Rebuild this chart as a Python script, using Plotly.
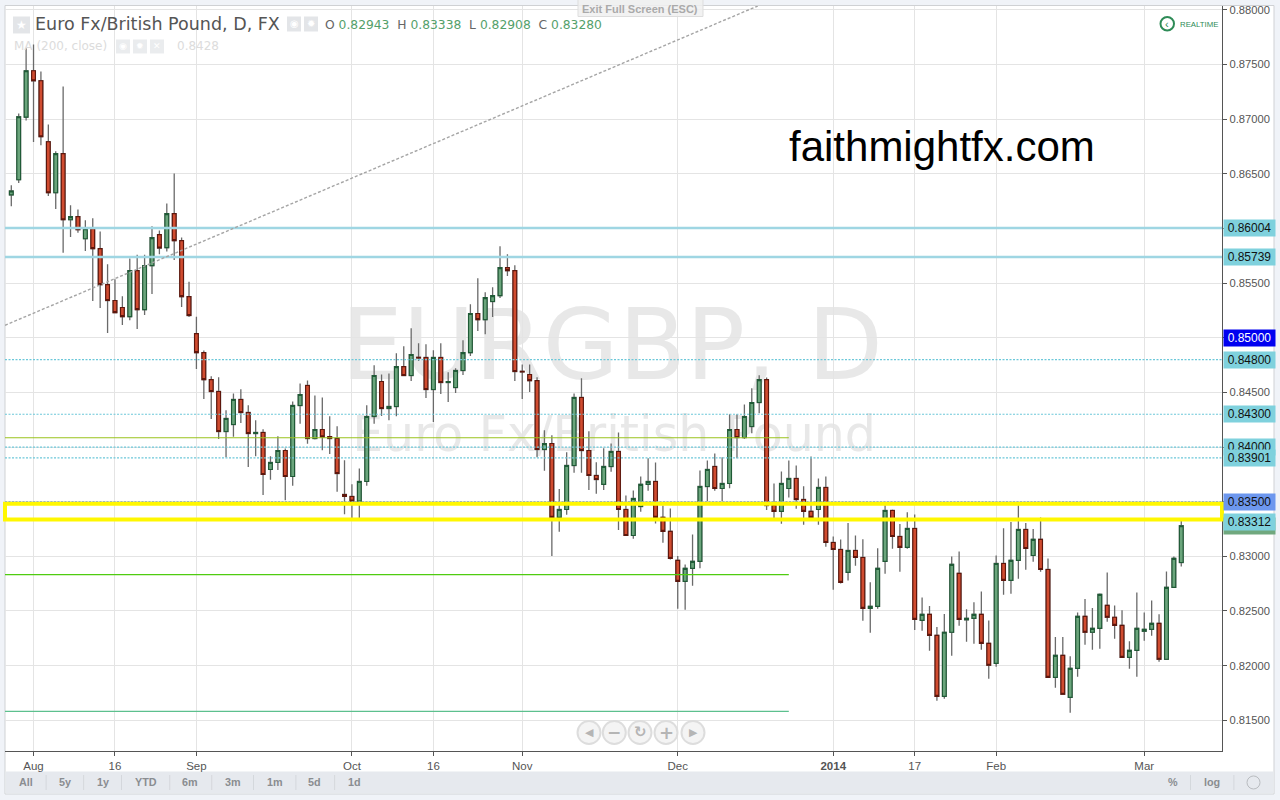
import plotly.graph_objects as go

# Prices are quoted in 1e-5 units (five-decimal FX quotes).
SCALE = 1e-5
opens = [
86307,86446,87018,87442,87351,86793,86327,86684,86080,86108,85906,85998,85815,85486,85340,85276,85193,85614,85257,85660,
85943,85824,86135,85888,85376,85038,84864,84617,84508,84142,84206,84435,84316,84124,84133,83795,83859,83968,83731,84380,
84563,84078,84160,84096,84078,83566,83548,83505,83685,84279,84599,84352,84371,84736,84654,84821,84819,84526,84819,84590,
84544,84700,84864,85221,85166,85331,85385,85641,85614,84693,84663,84608,83977,84032,83356,83429,83831,84453,83968,83740,
83658,83822,83959,83429,83191,83456,83658,83685,83356,83228,82963,82771,82890,82954,83639,83822,83621,83667,84160,84087,
84188,84407,84617,83465,83411,83621,83712,83520,83411,83429,83630,83127,83063,82853,83054,82990,82524,82542,82954,83420,
83182,83082,83255,82414,82469,82277,81719,82305,82844,82420,82432,82469,82204,82021,82935,82780,82963,83246,83008,83155,
82880,81893,82094,81710,81975,82451,82305,82341,82551,82442,82368,82076,82140,82314,82332,82387,82058,82716,82943]
highs = [
86394,87052,87649,87683,87436,86951,86705,87299,86211,86174,86074,86092,85973,85672,85534,85379,85724,85760,85760,86019,
85982,86229,86503,85916,85513,85193,84883,84648,84638,84337,84489,84529,84382,84245,84163,83916,84099,83987,84416,84581,
84608,84471,84453,84282,84190,83880,83660,83804,84382,84748,84663,84672,84858,84922,85086,84949,84940,84885,84949,84684,
84721,84977,85306,85544,85416,85461,85836,85763,85662,84755,84755,84638,84154,84108,83615,83953,84489,84629,84145,83861,
83989,84032,84133,83557,83603,83731,83898,83859,83465,83438,83002,82926,83200,83786,83877,83941,83907,84300,84300,84389,
84538,84657,84636,83667,83776,83877,83831,83642,83913,83712,83731,83182,83155,83304,83191,83157,82762,83075,83468,83429,
83295,83404,83383,82624,82545,82353,82472,82999,83045,82515,82579,82679,82414,83008,83258,83313,83468,83304,83249,83356,
82981,82262,82262,82085,82487,82609,82527,82661,82853,82551,82506,82222,82670,82487,82597,82469,82862,82999,83338]
lows = [
86204,86415,86988,86790,86762,86296,86177,85778,85921,85961,85793,85336,85272,85043,85230,85117,85160,85080,85208,85400,
85763,85790,85711,85281,85190,84714,84440,84257,84074,83907,84093,84221,83818,83916,83562,83700,83791,83514,83645,84212,
84029,84069,83971,83937,83590,83386,83343,83343,83645,84212,84285,84245,84282,84654,84605,84788,84449,84230,84486,84413,
84495,84659,84833,85062,85032,85190,85363,85565,84605,84440,84504,83907,83782,83002,83224,83380,83764,83764,83608,83572,
83608,83773,83240,83191,83160,83407,83599,83301,83124,82972,82520,82511,82731,82892,83505,83599,83505,83624,83898,84074,
84127,84309,83423,83343,83297,83539,83435,83288,83338,83288,83087,82694,82752,82780,82913,82411,82301,82520,82840,83069,
82859,83069,82326,82319,82136,81679,81698,82091,82365,82219,82200,82145,81880,81990,82648,82657,82795,82877,82950,82859,
81893,81798,81738,81570,81899,82191,82145,82155,82401,82246,82076,81972,81899,82228,82273,82036,82058,82716,82908]
closes = [
86343,87022,87442,87351,86839,86327,86684,86080,86108,85989,85998,85815,85486,85340,85230,85193,85614,85257,85660,85916,
85821,86135,85888,85376,85203,84864,84617,84508,84142,84261,84435,84316,84124,84133,83749,83859,83968,83731,84380,84480,
84078,84160,84093,84078,83758,83548,83505,83685,84279,84654,84352,84371,84736,84654,84846,84815,84526,84819,84590,84599,
84700,84864,85221,85166,85367,85385,85641,85614,84691,84687,84608,83977,84032,83356,83429,83831,84453,83968,83740,83703,
83822,83959,83429,83191,83529,83658,83685,83356,83228,82981,82771,82890,82954,83639,83795,83621,83667,84160,84087,84279,
84407,84617,83465,83411,83667,83712,83520,83411,83356,83630,83127,83063,82762,83054,82990,82524,82542,82890,83420,83182,
83082,83255,82423,82469,82277,81719,82305,82926,82423,82432,82469,82204,82003,82935,82780,82963,83246,83072,83155,82880,
81893,82094,81738,81975,82451,82305,82341,82652,82442,82368,82076,82140,82341,82332,82387,82058,82716,82981,83280]
x_index = list(range(len(opens)))

x_tick_index = [3, 14, 25, 46, 57, 69, 90, 111, 122, 133, 153]
x_tick_text = ["Aug", "16", "Sep", "Oct", "16", "Nov", "Dec", "<b>2014</b>", "17", "Feb", "Mar"]
y_ticks = [0.815, 0.82, 0.825, 0.83, 0.835, 0.84, 0.845, 0.85, 0.855, 0.86, 0.865, 0.87, 0.875, 0.88]

solid_levels = [(0.86004, "#9fd6e3", 2.4), (0.85739, "#9fd6e3", 2.4)]
dotted_levels = [(0.84800, "#6cc8d9"), (0.84300, "#6cc8d9"), (0.84000, "#6cc8d9"), (0.83901, "#6cc8d9")]
blue_level = 0.83500
zone_top, zone_bottom = 0.83482, 0.83336
short_levels = [(0.84085, "#9ac31c"), (0.82832, "#4fcc10"), (0.81581, "#5cc08e")]
short_end_index = 105
trend_start = (-0.85, 0.85114)
trend_end = (100.8, 0.88035)

tagged_prices = [
    (0.84000, "0.84000", "#7fd1dd", "#111"), (0.83901, "0.83901", "#7fd1dd", "#111"),
    (0.86004, "0.86004", "#7fd1dd", "#111"), (0.85739, "0.85739", "#7fd1dd", "#111"),
    (0.85000, "0.85000", "#0000f0", "#fff"), (0.84800, "0.84800", "#7fd1dd", "#111"),
    (0.84300, "0.84300", "#7fd1dd", "#111"), (0.83500, "0.83500", "#6d97ee", "#111"),
    (0.83280, "", "#70a87e", "#111"), (0.83312, "0.83312", "#7fd1dd", "#111"),
]

L, R, T, B = 5.0, 1222.0, 5.5, 751.0
def xp(px): return (px - L) / (R - L)
def yp(py): return (B - py) / (B - T)

SANS = "Liberation Sans"
GREY = "#555555"
shapes, ann = [], []

def rect(x0, y0, x1, y1, fill, line=None, layer="below", w=1):
    shapes.append(dict(type="rect", xref="paper", yref="paper", x0=xp(x0), x1=xp(x1), y0=yp(y1), y1=yp(y0),
                       fillcolor=fill, line=dict(color=line or fill, width=w if line else 0), layer=layer))
def label(px, py, text, size=12, color=GREY, family=SANS, anchor="center"):
    ann.append(dict(xref="paper", yref="paper", x=xp(px), y=yp(py), text=text, showarrow=False, xanchor=anchor,
                    yanchor="middle", font=dict(size=size, color=color, family=family), borderpad=0))
def watermark(x0, y0, x1, y1, text, size):
    shapes.append(dict(type="rect", xref="paper", yref="paper", x0=xp(x0), x1=xp(x1), y0=yp(y1), y1=yp(y0),
                       fillcolor="rgba(0,0,0,0)", line=dict(width=0), layer="below",
                       label=dict(text=text, textposition="middle center",
                                  font=dict(size=size, color="#e8e8e8", family="DejaVu Sans"))))

# page furniture
rect(5, 5, 1274, 794, "#ffffff", "#cfd1d4")
rect(5.5, 771.5, 1273.5, 793.5, "#e6e9ee")

# watermark sits behind the candles
watermark(312, 288, 912, 388, "EURGBP, D", 98)
watermark(314, 400, 914, 460, "Euro Fx/British Pound", 49)

# study lines (in data coordinates)
for p, c, w in solid_levels:
    shapes.append(dict(type="line", xref="paper", yref="y", x0=0, x1=1, y0=p, y1=p, line=dict(color=c, width=w)))
for p, c in dotted_levels:
    shapes.append(dict(type="line", xref="paper", yref="y", x0=0, x1=1, y0=p, y1=p, line=dict(color=c, width=1.2, dash="2px,1.5px")))
shapes.append(dict(type="line", xref="paper", yref="y", x0=0, x1=1, y0=blue_level, y1=blue_level,
                   line=dict(color="#6a9af0", width=1, dash="2px,1.5px")))
for p, c in short_levels:
    shapes.append(dict(type="line", xref="x", yref="y", x0=-0.85, x1=short_end_index, y0=p, y1=p, line=dict(color=c, width=1.2)))
shapes.append(dict(type="line", xref="x", yref="y", x0=trend_start[0], y0=trend_start[1], x1=trend_end[0], y1=trend_end[1],
                   line=dict(color="#a5a5a5", width=1.4, dash="3px,2px")))
shapes.append(dict(type="rect", xref="paper", yref="y", x0=0, x1=1, y0=zone_bottom, y1=zone_top,
                   line=dict(color="#fff700", width=4), fillcolor="rgba(0,0,0,0)"))

# header
rect(13, 16, 30, 33, "#e3e5e8", layer="above")
label(21.5, 24.5, "★", 12, "#ffffff", "DejaVu Sans")
label(34, 24, "Euro Fx/British Pound, D, FX", 17.5, "#555555", "DejaVu Sans", "left")
rect(287, 16, 301, 31, "#e3e5e8", layer="above")
label(294, 23.5, "◉", 10, "#ffffff", "DejaVu Sans")
rect(304, 16, 318, 31, "#e3e5e8", layer="above")
label(311, 23.5, "✹", 10, "#ffffff", "DejaVu Sans")
vc = "#53a06a"
hdr = ("O <span style='color:%s'>0.82943</span>  H <span style='color:%s'>0.83338</span>  "
       "L <span style='color:%s'>0.82908</span>  C <span style='color:%s'>0.83280</span>") % (vc, vc, vc, vc)
label(324, 25, hdr, 12.3, "#666666", "DejaVu Sans", "left")
label(13, 46, "MA (200, close)", 12, "#dcdcdc", "DejaVu Sans", "left")
for x0 in (116, 133, 150):
    rect(x0, 39, x0 + 14, 53, "#eaecee", layer="above")
label(123, 46, "◉", 9, "#ffffff", "DejaVu Sans")
label(140, 46, "✹", 9, "#ffffff", "DejaVu Sans")
label(157, 46, "✕", 9, "#ffffff", "DejaVu Sans")
label(176, 46, "0.8428", 12, "#dcdcdc", "DejaVu Sans", "left")

# exit banner
rect(578, -1, 703, 16, "rgba(240,240,240,0.85)", "#dddddd", layer="above")
label(640.5, 8.5, "<b>Exit Full Screen (ESC)</b>", 11, "#aaaaaa")

# realtime badge
shapes.append(dict(type="circle", xref="paper", yref="paper", x0=xp(1160.5), x1=xp(1174), y0=yp(30), y1=yp(16.5),
                   line=dict(color="#2e8b57", width=2), fillcolor="rgba(0,0,0,0)", layer="above"))
label(1167.3, 23.3, "‹", 11, "#2e8b57")
label(1179, 23.7, "REALTIME", 7.8, "#2e8b57", "Liberation Sans", "left")

label(942, 146.5, "faithmightfx.com", 42, "#000000", SANS)

# nav buttons
for cx, g, s in ((589, "◀", 11), (614.3, "−", 17), (640, "↻", 15), (666, "+", 18), (693, "▶", 11)):
    shapes.append(dict(type="circle", xref="paper", yref="paper", x0=xp(cx - 11.5), x1=xp(cx + 11.5), y0=yp(744), y1=yp(721),
                       line=dict(color="#dddddd", width=2), fillcolor="#f4f4f4", layer="above"))
    label(cx, 732, "<b>%s</b>" % g, s, "#b5b5b5", "DejaVu Sans")

# range toolbar
for px, t in ((26, "All"), (64.5, "5y"), (103, "1y"), (146, "YTD"), (190, "6m"), (232.6, "3m"), (274.7, "1m"),
              (314.7, "5d"), (354, "1d"), (1172.6, "%"), (1211.8, "log")):
    label(px, 782.5, "<b>%s</b>" % t, 10.8, "#8a8d91")
for px in (45.7, 83.3, 121.2, 169.4, 211.4, 253, 295.5, 334.3, 1190, 1233.5):
    rect(px, 775, px + 0.8, 790, "#d0d3d7", layer="above")
shapes.append(dict(type="circle", xref="paper", yref="paper", x0=xp(1247), x1=xp(1260), y0=yp(789), y1=yp(776),
                   line=dict(color="#b9bcc0", width=1), fillcolor="rgba(0,0,0,0)", layer="above"))

# price tags
for p, t, bg, fg in tagged_prices:
    ann.append(dict(xref="paper", yref="y", x=1, xshift=0.5, y=p, xanchor="left", yanchor="middle", text=t, showarrow=False,
                    width=49, height=14, borderpad=1, align="center", bgcolor=bg, font=dict(size=12, color=fg, family=SANS)))

dark_g, dark_r = "#1f5a36", "#5e160c"
fill_g, fill_r = "#6ba57c", "#d04c30"
prices = lambda a: [v * SCALE for v in a]
o, h, l, c = prices(opens), prices(highs), prices(lows), prices(closes)
fig = go.Figure()
# wicks
fig.add_trace(go.Candlestick(
    x=x_index, open=o, high=h, low=l, close=c, name="wicks", whiskerwidth=0, hoverinfo="skip",
    increasing=dict(line=dict(color="#6a6a6a", width=1.3), fillcolor="#6a6a6a"),
    decreasing=dict(line=dict(color="#6a6a6a", width=1.3), fillcolor="#6a6a6a")))
# bodies
fig.add_trace(go.Candlestick(
    x=x_index, open=o, close=c,
    high=[max(a, b) for a, b in zip(o, c)], low=[min(a, b) for a, b in zip(o, c)],
    name="EURGBP", whiskerwidth=0,
    increasing=dict(line=dict(color=dark_g, width=1.1), fillcolor=fill_g),
    decreasing=dict(line=dict(color=dark_r, width=1.1), fillcolor=fill_r)))

fig.update_layout(
    width=1280, height=800, autosize=False, showlegend=False,
    margin=dict(l=L, r=1280 - R, t=T, b=800 - B, pad=0),
    paper_bgcolor="#f0f3f8", plot_bgcolor="rgba(0,0,0,0)",
    boxmode="overlay", boxgap=0.28,
    shapes=shapes, annotations=ann,
    font=dict(family=SANS, size=11.5, color=GREY),
    xaxis=dict(range=[-0.851, 163.5], rangeslider=dict(visible=False), tickmode="array", tickvals=x_tick_index,
               ticktext=x_tick_text, showgrid=True, gridcolor="#e4e4e4", gridwidth=1.2, ticks="outside", ticklen=4,
               tickcolor=GREY, showline=True, linecolor=GREY, linewidth=1.4, tickfont=dict(size=11.5, color=GREY), zeroline=False),
    yaxis=dict(range=[0.81219, 0.88035], side="right", tickmode="array", tickvals=y_ticks,
               ticktext=["%.5f" % v for v in y_ticks], showgrid=True, gridcolor="#e4e4e4", gridwidth=1.2, ticks="outside",
               ticklen=4, tickcolor=GREY, showline=True, linecolor=GREY, linewidth=1.4, tickfont=dict(size=11.2, color=GREY),
               zeroline=False),
)
fig.write_html("out.html", config={"displayModeBar": False},
               post_script="document.body.style.margin='0';document.body.style.overflow='hidden';")
